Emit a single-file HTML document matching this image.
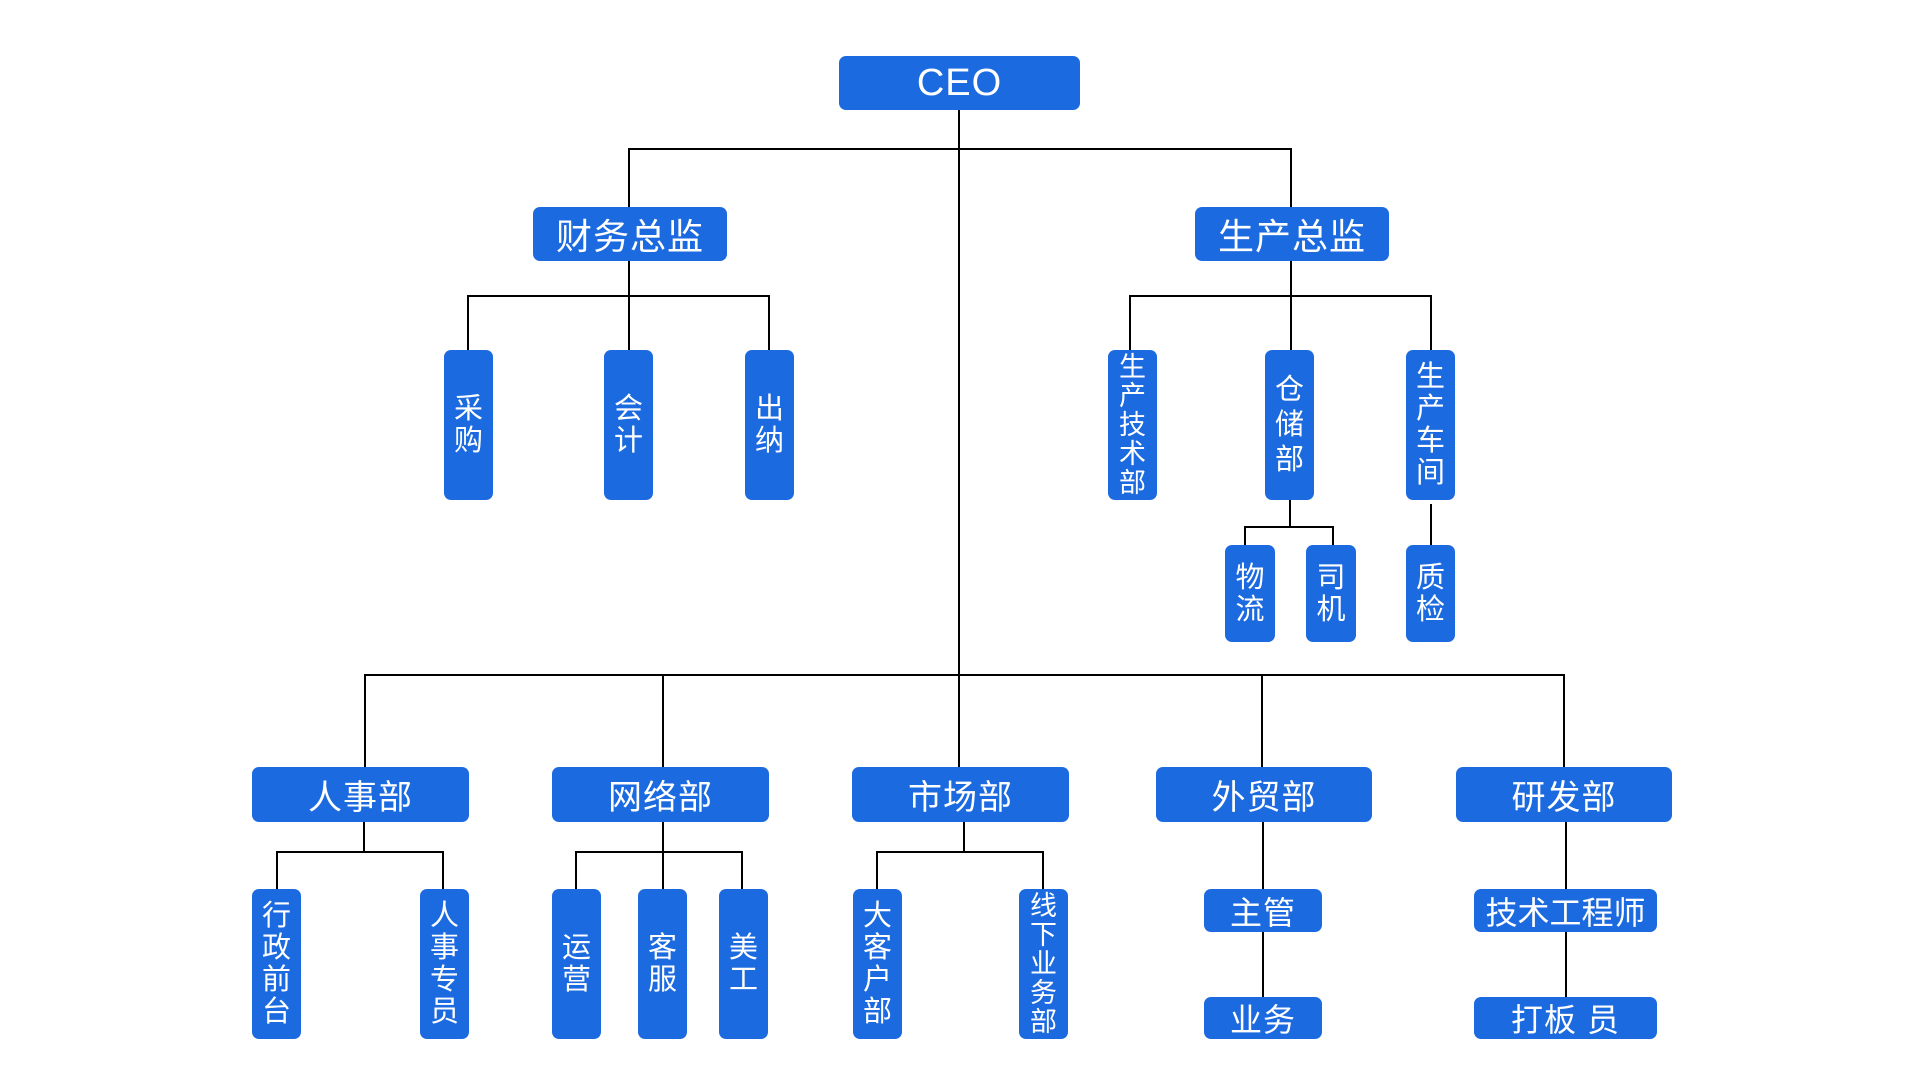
<!DOCTYPE html>
<html><head><meta charset="utf-8"><style>
body{margin:0;width:1920px;height:1080px;background:#fff;position:relative;overflow:hidden;font-family:"Liberation Sans","Noto Sans CJK SC",sans-serif;}
.b{position:absolute;background:#1c6ae0;color:#fff;border-radius:7px;display:flex;align-items:center;justify-content:center;text-align:center;}
.h{font-size:34px;letter-spacing:1px;}
.v{font-size:29px;line-height:32px;}
.v5{font-size:27px;line-height:29px;}
.l{position:absolute;background:#000;}
</style></head><body>
<!-- lines -->
<div class="l" style="left:958px;top:110px;width:2px;height:658px"></div>
<div class="l" style="left:628px;top:148px;width:664px;height:2px"></div>
<div class="l" style="left:628px;top:148px;width:2px;height:60px"></div>
<div class="l" style="left:1290px;top:148px;width:2px;height:60px"></div>
<div class="l" style="left:628px;top:261px;width:2px;height:35px"></div>
<div class="l" style="left:467px;top:295px;width:303px;height:2px"></div>
<div class="l" style="left:467px;top:295px;width:2px;height:56px"></div>
<div class="l" style="left:628px;top:295px;width:2px;height:56px"></div>
<div class="l" style="left:768px;top:295px;width:2px;height:56px"></div>
<div class="l" style="left:1290px;top:261px;width:2px;height:90px"></div>
<div class="l" style="left:1129px;top:295px;width:303px;height:2px"></div>
<div class="l" style="left:1129px;top:295px;width:2px;height:56px"></div>
<div class="l" style="left:1430px;top:295px;width:2px;height:56px"></div>
<div class="l" style="left:1289px;top:500px;width:2px;height:28px"></div>
<div class="l" style="left:1244px;top:526px;width:90px;height:2px"></div>
<div class="l" style="left:1244px;top:526px;width:2px;height:20px"></div>
<div class="l" style="left:1332px;top:526px;width:2px;height:20px"></div>
<div class="l" style="left:1430px;top:504px;width:2px;height:42px"></div>
<div class="l" style="left:364px;top:674px;width:1201px;height:2px"></div>
<div class="l" style="left:364px;top:674px;width:2px;height:94px"></div>
<div class="l" style="left:662px;top:674px;width:2px;height:94px"></div>
<div class="l" style="left:1261px;top:674px;width:2px;height:94px"></div>
<div class="l" style="left:1563px;top:674px;width:2px;height:94px"></div>
<!-- dept children -->
<div class="l" style="left:363px;top:820px;width:2px;height:32px"></div>
<div class="l" style="left:276px;top:851px;width:168px;height:2px"></div>
<div class="l" style="left:276px;top:851px;width:2px;height:39px"></div>
<div class="l" style="left:442px;top:851px;width:2px;height:39px"></div>
<div class="l" style="left:662px;top:820px;width:2px;height:70px"></div>
<div class="l" style="left:575px;top:851px;width:168px;height:2px"></div>
<div class="l" style="left:575px;top:851px;width:2px;height:39px"></div>
<div class="l" style="left:741px;top:851px;width:2px;height:39px"></div>
<div class="l" style="left:963px;top:820px;width:2px;height:32px"></div>
<div class="l" style="left:876px;top:851px;width:168px;height:2px"></div>
<div class="l" style="left:876px;top:851px;width:2px;height:39px"></div>
<div class="l" style="left:1042px;top:851px;width:2px;height:39px"></div>
<div class="l" style="left:1262px;top:820px;width:2px;height:178px"></div>
<div class="l" style="left:1565px;top:820px;width:2px;height:178px"></div>
<!-- boxes -->
<div class="b h" style="left:839px;top:56px;width:241px;height:54px;font-size:38px">CEO</div>
<div class="b h" style="left:533px;top:207px;width:194px;height:54px;font-size:36px">财务总监</div>
<div class="b h" style="left:1195px;top:207px;width:194px;height:54px;font-size:36px">生产总监</div>
<div class="b v" style="left:444px;top:350px;width:49px;height:150px">采<br>购</div>
<div class="b v" style="left:604px;top:350px;width:49px;height:150px">会<br>计</div>
<div class="b v" style="left:745px;top:350px;width:49px;height:150px">出<br>纳</div>
<div class="b v5" style="left:1108px;top:350px;width:49px;height:150px">生<br>产<br>技<br>术<br>部</div>
<div class="b v" style="left:1265px;top:350px;width:49px;height:150px;line-height:35px">仓<br>储<br>部</div>
<div class="b v" style="left:1406px;top:350px;width:49px;height:150px">生<br>产<br>车<br>间</div>
<div class="b v" style="left:1225px;top:545px;width:50px;height:97px">物<br>流</div>
<div class="b v" style="left:1306px;top:545px;width:50px;height:97px">司<br>机</div>
<div class="b v" style="left:1406px;top:545px;width:49px;height:97px">质<br>检</div>
<div class="b h" style="left:252px;top:767px;width:217px;height:55px">人事部</div>
<div class="b h" style="left:552px;top:767px;width:217px;height:55px">网络部</div>
<div class="b h" style="left:852px;top:767px;width:217px;height:55px">市场部</div>
<div class="b h" style="left:1156px;top:767px;width:216px;height:55px">外贸部</div>
<div class="b h" style="left:1456px;top:767px;width:216px;height:55px">研发部</div>
<div class="b v" style="left:252px;top:889px;width:49px;height:150px">行<br>政<br>前<br>台</div>
<div class="b v" style="left:420px;top:889px;width:49px;height:150px">人<br>事<br>专<br>员</div>
<div class="b v" style="left:552px;top:889px;width:49px;height:150px">运<br>营</div>
<div class="b v" style="left:638px;top:889px;width:49px;height:150px">客<br>服</div>
<div class="b v" style="left:719px;top:889px;width:49px;height:150px">美<br>工</div>
<div class="b v" style="left:853px;top:889px;width:49px;height:150px">大<br>客<br>户<br>部</div>
<div class="b v5" style="left:1019px;top:889px;width:49px;height:150px">线<br>下<br>业<br>务<br>部</div>
<div class="b h" style="left:1204px;top:889px;width:118px;height:43px;font-size:32px">主管</div>
<div class="b h" style="left:1204px;top:997px;width:118px;height:42px;font-size:32px">业务</div>
<div class="b h" style="left:1474px;top:889px;width:183px;height:43px;font-size:32px;letter-spacing:0">技术工程师</div>
<div class="b h" style="left:1474px;top:997px;width:183px;height:42px;font-size:32px">打板 员</div>
</body></html>
